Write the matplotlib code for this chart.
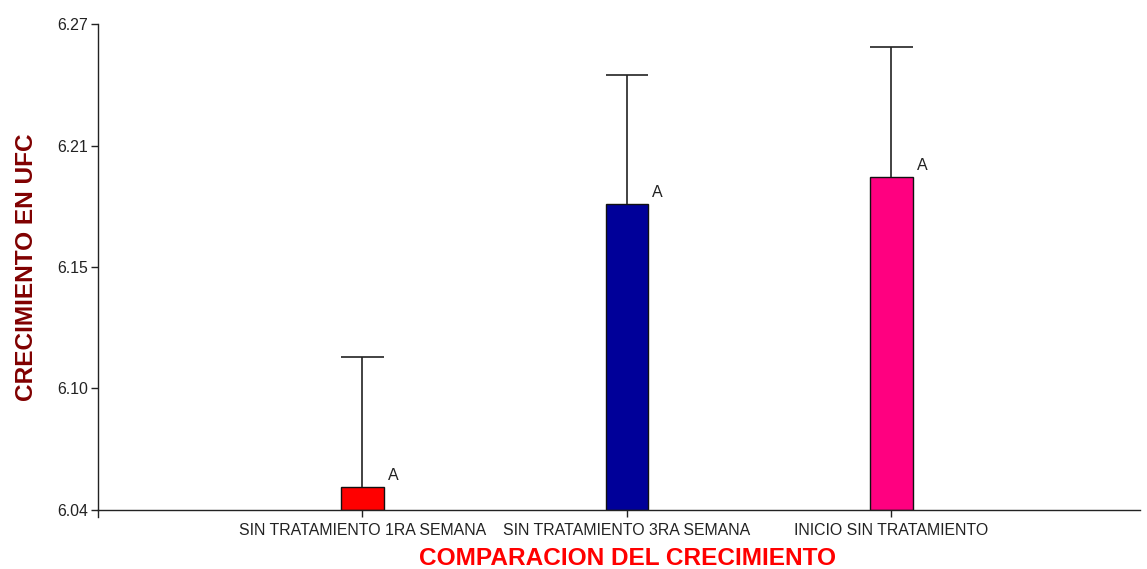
import numpy as np
import matplotlib
matplotlib.use("Agg")
import matplotlib.pyplot as plt

plt.rcParams['font.family'] = ['Liberation Sans', 'DejaVu Sans']

# data
categories = ['SIN TRATAMIENTO 1RA SEMANA', 'SIN TRATAMIENTO 3RA SEMANA', 'INICIO SIN TRATAMIENTO']
means = [6.051, 6.1847, 6.1977]
errors = [0.0615, 0.0614, 0.0616]
letters = ['A', 'A', 'A']
bar_colors = ['#FF0000', '#000099', '#FF0080']
ytick_values = [6.04, 6.0975, 6.155, 6.2125, 6.27]
ytick_labels = ['6.04', '6.10', '6.15', '6.21', '6.27']

ymin, ymax = 6.04, 6.27
x = np.arange(1, len(categories) + 1)
width = 0.16

fig = plt.figure(figsize=(11.47, 5.69), dpi=100)
ax = fig.add_axes([0.0854, 0.1037, 0.9085, 0.8541])

# bars start at the axis floor
heights = [m - ymin for m in means]
ax.bar(x, heights, width=width, bottom=ymin, color=bar_colors,
       edgecolor='#111111', linewidth=1.0, zorder=2)

# upper-only error bars, cap as wide as the bar
tops = np.array(means) + np.array(errors)
ax.vlines(x, means, tops, color='#222222', lw=1.2, zorder=3)
ax.hlines(tops, x - width / 2, x + width / 2, color='#222222', lw=1.2, zorder=3)

for xi, m, lab in zip(x, means, letters):
    ax.annotate(lab, xy=(xi + width / 2, m), xytext=(3, 3),
                textcoords='offset points', ha='left', va='bottom',
                fontsize=11.5, color='#222222')

ax.set_xlim(0, 3.94)
ax.set_ylim(ymin, ymax)
ax.set_xticks(x)
ax.set_xticklabels(categories)
ax.set_yticks(ytick_values)
ax.set_yticklabels(ytick_labels)

ax.tick_params(axis='both', direction='out', length=5, width=1.0,
               colors='#222222', labelsize=11.4, labelcolor='#222222')
ax.tick_params(axis='y', pad=2)
ax.tick_params(axis='x', pad=4.5)

for side in ['top', 'right']:
    ax.spines[side].set_visible(False)
for side in ['left', 'bottom']:
    ax.spines[side].set_color('#222222')
    ax.spines[side].set_linewidth(1.0)

# left axis line runs a little below the x axis
ax.plot([0, 0], [0, -0.0144], transform=ax.transAxes, clip_on=False,
        color='#222222', lw=1.0)

ax.set_xlabel('COMPARACION DEL CRECIMIENTO', fontsize=17.6, fontweight='bold', color='#FF0000')
ax.set_ylabel('CRECIMIENTO EN UFC', fontsize=17.6, fontweight='bold', color='#800000')
ax.xaxis.set_label_coords(0.508, -0.076)
ax.yaxis.set_label_coords(-0.0576, 0.5)

fig.savefig('out.png', dpi=100)
